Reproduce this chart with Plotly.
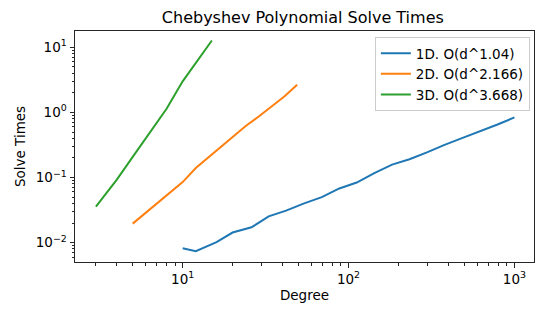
import plotly.graph_objects as go

# 1D data
deg_1d = [10, 12, 16, 20, 26, 33, 42, 54, 69, 88, 112, 143, 183, 233, 297, 379, 483, 615, 784, 1000]
time_1d = [0.0082, 0.0074, 0.0102, 0.0143, 0.0172, 0.0253, 0.0310, 0.0401, 0.0499, 0.0680,
           0.0838, 0.117, 0.158, 0.191, 0.243, 0.318, 0.403, 0.505, 0.646, 0.837]

# 2D data
deg_2d = [5, 6, 8, 10, 12, 15, 19, 24, 29, 34, 41, 49]
time_2d = [0.0196, 0.029, 0.053, 0.085, 0.14, 0.225, 0.37, 0.62, 0.88, 1.2, 1.75, 2.65]

# 3D data
deg_3d = [3, 4, 5, 6, 8, 10, 12, 15]
time_3d = [0.0358, 0.0923, 0.207, 0.40, 1.14, 3.0, 5.7, 12.7]

labels = ["1D. O(d^1.04)", "2D. O(d^2.166)", "3D. O(d^3.668)"]
colors = ["#1f77b4", "#ff7f0e", "#2ca02c"]

x_ticks = [10, 100, 1000]
x_ticktext = ["10<sup>1</sup>", "10<sup>2</sup>", "10<sup>3</sup>"]
y_ticks = [0.01, 0.1, 1, 10]
y_ticktext = ["10<sup>\u22122</sup>", "10<sup>\u22121</sup>", "10<sup>0</sup>", "10<sup>1</sup>"]

def minor_vals(lo, hi):
    out = []
    for e in range(lo, hi):
        for m in range(2, 10):
            out.append(m * 10 ** e)
    return out

fig = go.Figure()
for xs, ys, name, c in zip([deg_1d, deg_2d, deg_3d], [time_1d, time_2d, time_3d], labels, colors):
    fig.add_trace(go.Scatter(x=xs, y=ys, mode="lines", name=name,
                             line=dict(color=c, width=2)))

font = "DejaVu Sans, sans-serif"
tfs = 13.5
axis_common = dict(
    type="log", showgrid=False, zeroline=False,
    showline=True, linecolor="#262626", linewidth=1, mirror=True,
    ticks="outside", ticklen=4.5, tickwidth=1, tickcolor="#262626",
    tickfont=dict(family=font, size=tfs, color="black"),
)

# page body has an 8px default margin, so the figure is sized to fit the window
fig.update_layout(
    width=539, height=308,
    paper_bgcolor="white", plot_bgcolor="white",
    margin=dict(l=64, r=12, t=23, b=54),
    title=dict(text="Chebyshev Polynomial Solve Times", x=0.547, xanchor="center",
               y=0.968, yanchor="middle",
               font=dict(family=font, size=16, color="black")),
    xaxis=dict(axis_common, range=[0.351, 3.118],
               tickmode="array", tickvals=x_ticks, ticktext=x_ticktext,
               minor=dict(ticks="outside", ticklen=2.5, tickwidth=0.8, tickcolor="#262626",
                          tickvals=minor_vals(0, 4)),
               title=dict(text="Degree", font=dict(family=font, size=tfs, color="black"), standoff=4)),
    yaxis=dict(axis_common, range=[-2.297, 1.25],
               tickmode="array", tickvals=y_ticks, ticktext=y_ticktext,
               minor=dict(ticks="outside", ticklen=2.5, tickwidth=0.8, tickcolor="#262626",
                          tickvals=minor_vals(-3, 2)),
               title=dict(text="Solve Times", font=dict(family=font, size=tfs, color="black"), standoff=6)),
    legend=dict(x=0.991, y=0.974, xanchor="right", yanchor="top",
                bgcolor="rgba(255,255,255,0.8)", bordercolor="#cccccc", borderwidth=1,
                font=dict(family=font, size=tfs, color="black"),
                tracegroupgap=0, itemwidth=30),
    showlegend=True,
)

fig.write_html("out.html")
